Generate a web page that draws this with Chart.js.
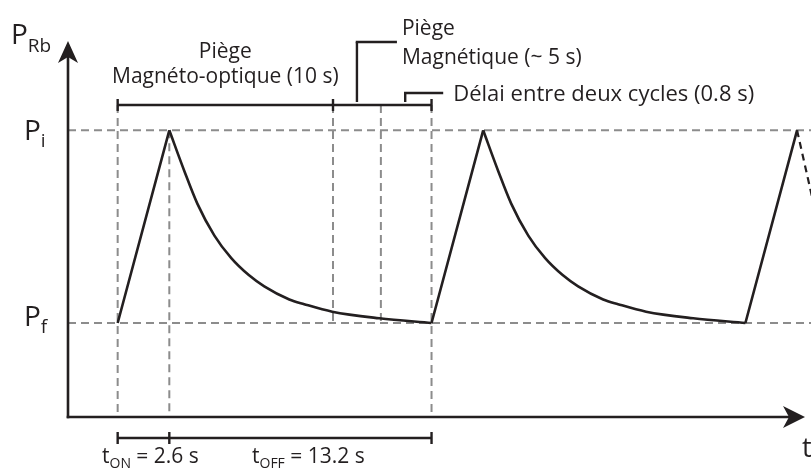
<!DOCTYPE html>
<html>
<head>
<meta charset="utf-8">
<script src="https://cdn.jsdelivr.net/npm/chart.js@4/dist/chart.umd.min.js"></script>
<style>
  html, body { margin: 0; padding: 0; background: #ffffff; overflow: hidden; }
  canvas { display: block; }
</style>
</head>
<body>
<canvas id="c" width="811" height="469"></canvas>
<script>
// Pressure levels (arbitrary units)
const P_F = 1.0;
const P_I = 3.05;

// Cycle timing (s)
const T_ON = 2.6;
const T_OFF = 13.2;
const cycleStarts = [2.5, 18.3, 34.1];

// Pressure decay after the loading peak: time since peak (s) and pressure
const decayTime = [0, 0.75, 1.41, 2.27, 3.12, 4.0, 4.78, 6.04, 6.79, 8.2, 10.57, 13.2];
const decayP    = [3.05, 2.62, 2.27, 1.93, 1.69, 1.51, 1.39, 1.25, 1.20, 1.12, 1.05, 1.0];

// Phase boundaries of one cycle on the timeline (s)
const phaseEdges = [2.5, 13.34, 15.75, 18.3];

// Dashed continuation after the last peak
const tailTime = [36.7, 37.5];
const tailP    = [3.05, 2.3];

// Axis extents
const X_MAX = 37.1;
const Y_MAX = 4.0;

const INK = '#231f20';
const GREY = '#8c8c8c';
const FONT = '"Open Sans", "Noto Sans", sans-serif';

// ---- datasets built from the arrays above ----
const risePts = [];
cycleStarts.forEach((s, i) => {
  if (i > 0) risePts.push({ x: s, y: null });
  risePts.push({ x: s, y: P_F });
  risePts.push({ x: s + T_ON, y: P_I });
});

const decaySets = cycleStarts.slice(0, 2).map(s => ({
  data: decayTime.map((dt, k) => ({ x: s + T_ON + dt, y: decayP[k] })),
  borderColor: INK,
  borderWidth: 2.6,
  pointRadius: 0,
  cubicInterpolationMode: 'monotone',
  clip: false
}));

const datasets = [
  {
    data: risePts,
    borderColor: INK,
    borderWidth: 2.6,
    pointRadius: 0,
    tension: 0,
    spanGaps: false,
    clip: false
  },
  ...decaySets,
  {
    data: tailTime.map((t, k) => ({ x: t, y: tailP[k] })),
    borderColor: INK,
    borderWidth: 2.2,
    borderDash: [7, 5],
    pointRadius: 0,
    tension: 0,
    clip: false
  }
];

// ---- drawing helpers ----
function line(ctx, x1, y1, x2, y2) {
  ctx.beginPath();
  ctx.moveTo(x1, y1);
  ctx.lineTo(x2, y2);
  ctx.stroke();
}

function text(ctx, str, x, y, size, align) {
  ctx.font = size + 'px ' + FONT;
  ctx.textAlign = align || 'left';
  ctx.textBaseline = 'alphabetic';
  ctx.fillText(str, x, y);
  return ctx.measureText(str).width;
}

// main symbol with subscript, followed by optional trailing text
function subText(ctx, main, sub, rest, x, y, size, subSize, drop) {
  let w = text(ctx, main, x, y, size);
  w += text(ctx, sub, x + w, y + drop, subSize);
  if (rest) w += text(ctx, rest, x + w, y, size);
  return w;
}

const schematic = {
  id: 'schematic',
  beforeDatasetsDraw(chart) {
    const ctx = chart.ctx;
    const X = v => chart.scales.x.getPixelForValue(v);
    const Y = v => chart.scales.y.getPixelForValue(v);
    const bracketY = 105;
    ctx.save();
    ctx.strokeStyle = GREY;
    ctx.lineWidth = 2;
    ctx.setLineDash([8, 5]);
    // reference pressure levels
    line(ctx, X(0), Y(P_I), chart.width, Y(P_I));
    line(ctx, X(0), Y(P_F), chart.width, Y(P_F));
    // cycle markers
    const s0 = cycleStarts[0];
    line(ctx, X(s0), bracketY, X(s0), Y(0));
    line(ctx, X(s0 + T_ON), Y(P_I), X(s0 + T_ON), Y(0));
    line(ctx, X(phaseEdges[1]), bracketY, X(phaseEdges[1]), Y(P_F));
    line(ctx, X(phaseEdges[2]), bracketY, X(phaseEdges[2]), Y(P_F));
    line(ctx, X(phaseEdges[3]), bracketY, X(phaseEdges[3]), Y(0));
    ctx.restore();
  },
  afterDatasetsDraw(chart) {
    const ctx = chart.ctx;
    const X = v => chart.scales.x.getPixelForValue(v);
    const Y = v => chart.scales.y.getPixelForValue(v);
    const x0 = X(0), y0 = Y(0);
    const xTip = X(X_MAX), yTip = Y(Y_MAX);
    ctx.save();
    ctx.strokeStyle = INK;
    ctx.fillStyle = INK;
    ctx.lineCap = 'butt';

    // axes
    ctx.lineWidth = 2.6;
    line(ctx, x0, y0 + 1.3, x0, yTip + 14);
    line(ctx, x0 - 1.3, y0, xTip - 14, y0);
    // arrowheads
    ctx.beginPath();
    ctx.moveTo(x0, yTip);
    ctx.lineTo(x0 - 10, yTip + 22);
    ctx.lineTo(x0, yTip + 16);
    ctx.lineTo(x0 + 10, yTip + 22);
    ctx.closePath();
    ctx.fill();
    ctx.beginPath();
    ctx.moveTo(xTip, y0);
    ctx.lineTo(xTip - 22, y0 - 11);
    ctx.lineTo(xTip - 16, y0);
    ctx.lineTo(xTip - 22, y0 + 11);
    ctx.closePath();
    ctx.fill();

    // timeline bracket above the first cycle
    const bY = 105;
    ctx.lineWidth = 2.4;
    line(ctx, X(phaseEdges[0]), bY, X(phaseEdges[3]), bY);
    [phaseEdges[0], phaseEdges[1], phaseEdges[3]].forEach(t => line(ctx, X(t), bY - 6, X(t), bY + 6));

    // leader for the magnetic trap phase
    const mx = (X(phaseEdges[1]) + X(phaseEdges[2])) / 2;
    line(ctx, mx, bY - 3, mx, 42);
    line(ctx, mx - 1.2, 42, mx + 40, 42);
    // leader for the delay between cycles
    const dx = (X(phaseEdges[2]) + X(phaseEdges[3])) / 2 - 1;
    line(ctx, dx, bY - 3, dx, 93);
    line(ctx, dx - 1.2, 93, dx + 38, 93);

    // bracket below the time axis
    const lY = 438;
    const s0 = cycleStarts[0];
    line(ctx, X(s0), lY, X(s0 + T_ON + T_OFF), lY);
    [s0, s0 + T_ON, s0 + T_ON + T_OFF].forEach(t => line(ctx, X(t), lY - 6, X(t), lY + 6));

    // labels
    const mot = (X(phaseEdges[0]) + X(phaseEdges[1])) / 2;
    text(ctx, 'Piège', mot, 58, 21, 'center');
    text(ctx, 'Magnéto-optique (10 s)', mot, 83, 21, 'center');
    text(ctx, 'Piège', mx + 45, 35, 21);
    text(ctx, 'Magnétique (~ 5 s)', mx + 45, 64, 21);
    text(ctx, 'Délai entre deux cycles (0.8 s)', dx + 48, 101, 22);

    subText(ctx, 'P', 'Rb', '', 11, 44, 28, 19, 8);
    subText(ctx, 'P', 'i', '', 24, 140, 28, 19, 7);
    subText(ctx, 'P', 'f', '', 24, 326, 28, 19, 7);
    text(ctx, 't', 802, 457, 27);

    subText(ctx, 't', 'ON', ' = 2.6 s', 102, 463, 21, 14, 5);
    subText(ctx, 't', 'OFF', ' = 13.2 s', 252, 463, 21, 14, 5);

    ctx.restore();
  }
};

new Chart(document.getElementById('c'), {
  type: 'line',
  data: { datasets },
  options: {
    responsive: false,
    devicePixelRatio: 1,
    animation: false,
    layout: { padding: { left: 68, right: 6, top: 41, bottom: 52 } },
    scales: {
      x: { type: 'linear', min: 0, max: X_MAX, display: false },
      y: { type: 'linear', min: 0, max: Y_MAX, display: false }
    },
    plugins: {
      legend: { display: false },
      tooltip: { enabled: false }
    },
    elements: { line: { borderCapStyle: 'butt', borderJoinStyle: 'miter' } }
  },
  plugins: [schematic]
});
</script>
</body>
</html>
